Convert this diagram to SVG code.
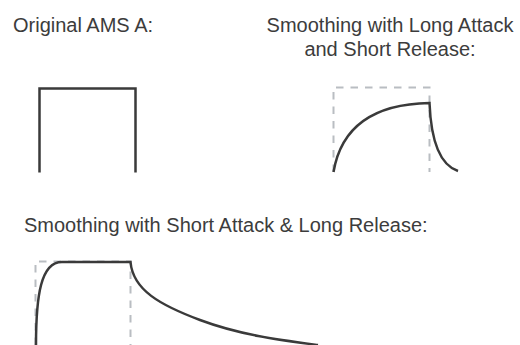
<svg xmlns="http://www.w3.org/2000/svg" width="520" height="345" viewBox="0 0 520 345">
<style>
text { font-family: "Liberation Sans", Arial, sans-serif; font-size: 20px; fill: #3c3c3c; }
.wave { fill: none; stroke: #3a3a3a; stroke-width: 2.5; stroke-linejoin: miter; }
.guide { fill: none; stroke: #b9bdc2; stroke-width: 2; stroke-dasharray: 7.5 7; }
</style>
<rect width="520" height="345" fill="#ffffff"/>
<g id="original">
  <text x="13" y="32">Original AMS A:</text>
  <path class="wave" d="M39.5,172.5 V88.5 H135.5 V172.5"/>
</g>
<g id="long-attack">
  <text x="390" y="32" text-anchor="middle">Smoothing with Long Attack</text>
  <text x="390" y="56" text-anchor="middle">and Short Release:</text>
  <path class="guide" d="M333.5,172 V87.5 H429.5 V172"/>
  <path class="wave" d="M333.5,172 C341,128 372,104 429.5,103 C431,140 440,165 458,171"/>
</g>
<g id="long-release">
  <text x="24" y="232">Smoothing with Short Attack &amp; Long Release:</text>
  <path class="guide" d="M35.5,345 V261.5 H130.5 V345"/>
  <path class="wave" d="M36,345 C36,295 41,262 62,262 H130.5 C133,290 160,305 200,320 S280,340 318,345"/>
</g>
</svg>
